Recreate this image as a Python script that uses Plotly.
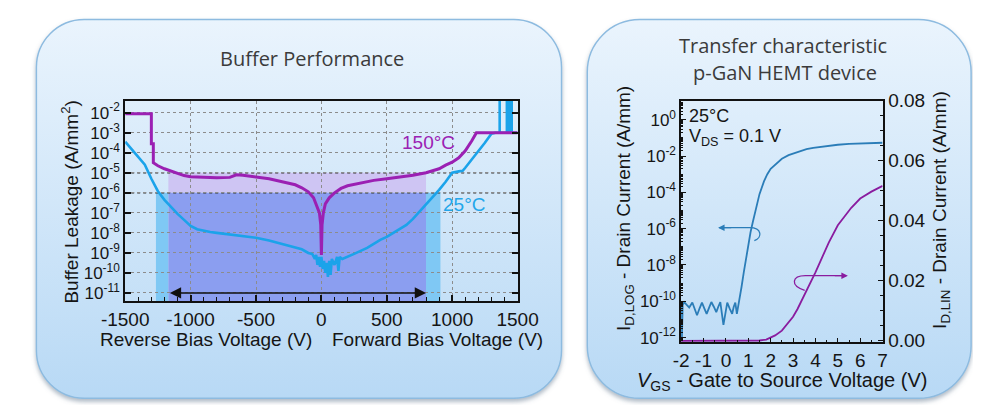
import base64
import plotly.graph_objects as go

W, H = 994, 414

# ---------------- Left chart: Buffer leakage ----------------
v_150 = [-1500, -1300, -1300, -1285, -1285, -1250, -1200, -1150, -1100, -1050, -1000, -900,
         -800, -700, -650, -600, -500, -400, -300, -200, -150, -100, -60, -30, -15, -5, 0,
         5, 15, 30, 60, 100, 150, 200, 300, 400, 500, 600, 700, 800, 850, 900, 950, 1000,
         1050, 1100, 1150, 1185, 1300, 1400, 1500]
exp_150 = [-2.05, -2.05, -3.55, -3.55, -4.5, -4.65, -4.8, -4.92, -5.05, -5.14, -5.2, -5.24,
           -5.25, -5.23, -5.1, -5.12, -5.2, -5.3, -5.45, -5.6, -5.75, -5.95, -6.25, -6.7, -7.0, -7.6, -9.1,
           -7.6, -7.0, -6.55, -6.25, -6.0, -5.78, -5.65, -5.5, -5.38, -5.3, -5.22, -5.12, -5.0, -4.9, -4.8,
           -4.62, -4.47, -4.25, -3.9, -3.4, -3.0, -3.0, -3.0, -3.0]

v_25 = [-1500, -1450, -1400, -1350, -1300, -1250, -1200, -1150, -1100, -1050, -1000, -950, -900,
        -850, -800, -700, -600, -500, -400, -300, -200, -150, -100, -70, -50, -40, -30, -20, -10,
        0, 10, 20, 30, 40, 50, 60, 70, 80, 100, 120, 130, 140, 160, 200, 250, 300, 350, 400, 450,
        500, 550, 600, 650, 700, 750, 800, 850, 900, 950, 1000, 1050, 1080, 1100, 1150, 1200, 1250,
        1300, 1330, 1363, 1363, 1363, 1418, 1418, 1430, 1430, 1442, 1442, 1455, 1455, 1500]
exp_25 = [-3.45, -3.85, -4.2, -4.6, -5.3, -5.92, -6.35, -6.72, -7.05, -7.35, -7.65, -7.82, -7.9,
          -7.96, -8.0, -8.08, -8.14, -8.24, -8.38, -8.55, -8.72, -8.82, -9.0, -9.05, -9.3, -9.1, -9.6, -9.2, -9.7,
          -9.2, -9.8, -9.4, -10.0, -9.5, -10.2, -9.4, -10.1, -9.3, -9.6, -9.2, -9.9, -9.2, -9.3, -9.2, -9.05,
          -8.9, -8.75, -8.55, -8.35, -8.2, -8.0, -7.8, -7.6, -7.3, -6.95, -6.6, -6.2, -5.85, -5.45, -5.0,
          -4.93, -4.9, -4.75, -4.35, -3.95, -3.5, -3.05, -3.0, -3.0, -1.0, -3.0, -3.0, -1.0, -1.0, -3.0,
          -3.0, -1.0, -1.0, -3.0, -3.0]

left_x_ticks = [-1500, -1000, -500, 0, 500, 1000, 1500]
left_y_exps = [-11, -10, -9, -8, -7, -6, -5, -4, -3, -2]
safe_zone = [-1170, 800]          # arrow / shaded window (V)
wide_zone = [-1265, 910]          # light cyan extension (V)
zone_levels = [1e-6, 1e-5]        # 25°C and 150°C limits

# ---------------- Right chart: transfer characteristic ----------------
vgs_log = [-2.0, -1.97, -1.93, -1.86, -1.75, -1.64, -1.5, -1.4, -1.29, -1.18, -1.07, -0.96, -0.86,
           -0.75, -0.65, -0.54, -0.43, -0.34, -0.25, -0.11, 0.06, 0.17, 0.28, 0.35, 0.42, 0.49, 0.55,
           0.6, 0.7, 0.8, 0.9, 1.0, 1.1, 1.2, 1.35, 1.5, 1.7, 1.85, 2.0, 2.3, 2.5, 2.8, 3.2, 3.6, 3.9,
           4.5, 5.0, 5.5, 6.0, 6.5, 7.0]
exp_id_log = [-10.3, -12.2, -10.2, -10.05, -10.2, -10.34, -10.07, -10.4, -10.77, -10.4, -10.07, -10.4,
              -10.69, -10.35, -10.04, -10.3, -10.6, -10.3, -10.04, -11.3, -10.07, -10.4, -10.69, -10.3,
              -10.07, -10.69, -10.3, -9.9, -9.2, -8.4, -7.6, -6.9, -6.2, -5.65, -4.85, -4.1, -3.4, -3.0,
              -2.7, -2.35, -2.15, -1.95, -1.78, -1.62, -1.55, -1.45, -1.38, -1.33, -1.3, -1.28, -1.27]

vgs_lin = [-2, -1, 0, 1, 1.5, 1.8, 2.0, 2.2, 2.5, 2.8, 3.0, 3.2, 3.5, 3.8, 4.0, 4.3, 4.6, 5.0, 5.3,
           5.6, 6.0, 6.5, 7.0]
id_lin = [0, 0, 0, 0, 0.0001, 0.0004, 0.0010, 0.0018, 0.0034, 0.0060, 0.0080, 0.0106, 0.0150,
          0.0195, 0.0228, 0.0278, 0.0328, 0.0385, 0.0415, 0.0443, 0.0474, 0.0497, 0.0516]

right_x_ticks = [-2, -1, 0, 1, 2, 3, 4, 5, 6, 7]
right_log_exps = [0, -2, -4, -6, -8, -10, -12]
right_lin_ticks = [0.0, 0.02, 0.04, 0.06, 0.08]

i_150 = [10 ** e for e in exp_150]
i_25 = [10 ** e for e in exp_25]
id_log = [10 ** e for e in exp_id_log]

PURPLE = "#9b20b3"
BLUE = "#1ba3ea"
BLUE_R = "#2b7db8"
PURPLE_R = "#8a1c9f"
ARIAL = "Liberation Sans"
TITLEF = "Open Sans"
INK = "#151515"


def px(x):
    return x / W


def py(y):
    return 1 - y / H


# Panel backgrounds (gradient rounded boxes)
svg = f'''<svg xmlns="http://www.w3.org/2000/svg" width="{W}" height="{H}" viewBox="0 0 {W} {H}">
<defs>
<linearGradient id="g" x1="0" y1="0" x2="0" y2="1">
<stop offset="0" stop-color="#eaf4fd"/>
<stop offset="1" stop-color="#b8d9f5"/>
</linearGradient>
<filter id="s" x="-5%" y="-5%" width="110%" height="115%">
<feDropShadow dx="0" dy="3" stdDeviation="2.5" flood-color="#60768c" flood-opacity="0.5"/>
</filter>
</defs>
<rect x="13" y="10" width="550" height="397" rx="50" ry="50" fill="url(#g)" stroke="#8dbbe0" stroke-width="1.5" filter="url(#s)"/>
<rect x="590" y="10" width="402" height="397" rx="55" ry="55" fill="url(#g)" stroke="#8dbbe0" stroke-width="1.5" filter="url(#s)"/>
</svg>'''
src = "data:image/svg+xml;base64," + base64.b64encode(svg.encode()).decode()

fig = go.Figure()

# Left traces
fig.add_trace(go.Scatter(x=v_25, y=i_25, mode="lines", line=dict(color=BLUE, width=2.6),
                         xaxis="x", yaxis="y", showlegend=False, hoverinfo="skip"))
fig.add_trace(go.Scatter(x=v_150, y=i_150, mode="lines", line=dict(color=PURPLE, width=3),
                         xaxis="x", yaxis="y", showlegend=False, hoverinfo="skip"))

# Right traces
fig.add_trace(go.Scatter(x=vgs_log, y=id_log, mode="lines", line=dict(color=BLUE_R, width=1.8),
                         xaxis="x2", yaxis="y2", showlegend=False, hoverinfo="skip"))
fig.add_trace(go.Scatter(x=vgs_lin, y=id_lin, mode="lines", line=dict(color=PURPLE_R, width=1.8),
                         xaxis="x2", yaxis="y3", showlegend=False, hoverinfo="skip"))

ybot = 10 ** -11.4
shapes = [
    dict(type="rect", xref="x", yref="y", x0=wide_zone[0], x1=safe_zone[0], y0=ybot, y1=zone_levels[0],
         fillcolor="#7fc8f4", line_width=0, layer="below"),
    dict(type="rect", xref="x", yref="y", x0=safe_zone[1], x1=wide_zone[1], y0=ybot, y1=zone_levels[0],
         fillcolor="#7fc8f4", line_width=0, layer="below"),
    dict(type="rect", xref="x", yref="y", x0=safe_zone[0], x1=safe_zone[1], y0=zone_levels[0], y1=zone_levels[1],
         fillcolor="#cec5f3", line_width=0, layer="below"),
    dict(type="rect", xref="x", yref="y", x0=safe_zone[0], x1=safe_zone[1], y0=ybot, y1=zone_levels[0],
         fillcolor="#8b9ef0", line_width=0, layer="below"),
    dict(type="line", xref="x", yref="y", x0=-1500, x1=1500, y0=zone_levels[0], y1=zone_levels[0],
         line=dict(color="#333", width=1.4, dash="dot"), layer="below"),
    dict(type="line", xref="x", yref="y", x0=-1500, x1=1500, y0=zone_levels[1], y1=zone_levels[1],
         line=dict(color="#333", width=1.4, dash="dot"), layer="below"),
    dict(type="path", xref="x2", yref="y3",
         path="M -0.30,0.0377 L 1.06,0.0377 C 1.62,0.0377 1.64,0.0343 1.27,0.0334",
         line=dict(color=BLUE_R, width=1.3)),
    dict(type="path", xref="x2", yref="y3",
         path="M 5.35,0.0217 L 3.55,0.0217 C 2.95,0.0217 2.85,0.0185 3.52,0.0168",
         line=dict(color=PURPLE_R, width=1.3)),
]


def ann(text, x, y, size=19, color=INK, family=ARIAL, angle=0, xanchor="center"):
    return dict(text=text, x=px(x), y=py(y), xref="paper", yref="paper", showarrow=False,
                font=dict(family=family, size=size, color=color), textangle=angle,
                xanchor=xanchor, yanchor="middle")


annotations = [
    ann("Buffer Performance", 302, 51, size=20, color="#3b3b3b", family=TITLEF),
    ann("Transfer characteristic", 795, 37, size=20, color="#3b3b3b", family=TITLEF),
    ann("p-GaN HEMT device", 797, 65, size=20, color="#3b3b3b", family=TITLEF),
    ann("Buffer Leakage (A/mm<sup>2</sup>)", 48, 201, size=19, angle=-90),
    ann("Reverse Bias Voltage (V)", 191, 345, size=19),
    ann("Forward Bias Voltage (V)", 433, 345, size=19),
    ann("I<sub>D,LOG</sub> - Drain Current (A/mm)", 630, 208, size=19, angle=-90),
    ann("I<sub>D,LIN</sub> - Drain Current (A/mm)", 961, 209, size=19, angle=-90),
    ann("<i>V</i><sub>GS</sub> - Gate to Source Voltage (V)", 794, 389, size=20),
    ann("25°C", 694, 111, size=18, xanchor="left"),
    ann("V<sub>DS</sub> = 0.1 V", 694, 134, size=18, xanchor="left"),
    dict(text="150°C", x=820, y=-3.5, xref="x", yref="y", showarrow=False,
         font=dict(family=ARIAL, size=19, color=PURPLE)),
    dict(text="25°C", x=1090, y=-6.6, xref="x", yref="y", showarrow=False,
         font=dict(family=ARIAL, size=19, color="#23a6ea")),
    dict(text="", x=safe_zone[1], y=-11, ax=safe_zone[0], ay=-11, xref="x", yref="y",
         axref="x", ayref="y", showarrow=True, arrowhead=2, arrowside="end+start",
         arrowsize=1.5, arrowwidth=1.5, arrowcolor="#111"),
    dict(text="", x=-0.35, y=0.0377, ax=0.3, ay=0.0377, xref="x2", yref="y3", axref="x2", ayref="y3",
         showarrow=True, arrowhead=2, arrowsize=1.0, arrowwidth=1.3, arrowcolor=BLUE_R),
    dict(text="", x=5.45, y=0.0217, ax=4.8, ay=0.0217, xref="x2", yref="y3", axref="x2", ayref="y3",
         showarrow=True, arrowhead=2, arrowsize=1.0, arrowwidth=1.3, arrowcolor=PURPLE_R),
]

axis_common = dict(showline=True, linecolor="#111", zeroline=False, ticks="inside",
                   tickcolor="#111")

fig.update_layout(
    width=W, height=H, autosize=False,
    margin=dict(l=0, r=0, t=0, b=0),
    paper_bgcolor="white", plot_bgcolor="rgba(0,0,0,0)",
    images=[dict(source=src, xref="paper", yref="paper", x=0, y=1, sizex=1, sizey=1,
                 xanchor="left", yanchor="top", sizing="stretch", layer="below")],
    shapes=shapes,
    annotations=annotations,
    xaxis=dict(domain=[px(106), px(517)], anchor="y", range=[-1500, 1500], tickvals=left_x_ticks,
               ticktext=[str(v) for v in left_x_ticks], linewidth=2, mirror=True, ticklen=6, tickwidth=1.5,
               showgrid=True, gridcolor="#8c8c8c", griddash="dot", gridwidth=1,
               minor=dict(dtick=100, ticks="inside", ticklen=4, tickcolor="#111", tickwidth=1.2, showgrid=False),
               tickfont=dict(family=ARIAL, size=19, color=INK), **axis_common),
    yaxis=dict(domain=[py(305), py(95)], anchor="x", type="log", range=[-11.4, -1.4],
               tickvals=[10 ** e for e in left_y_exps],
               ticktext=[f"10<sup>{e}</sup>" for e in left_y_exps], linewidth=2, mirror="ticks",
               ticklen=6, tickwidth=1.5, showgrid=True, gridcolor="#8c8c8c", griddash="dot", gridwidth=1,
               tickfont=dict(family=ARIAL, size=17, color=INK), **axis_common),
    xaxis2=dict(domain=[px(688.3), px(899.3)], anchor="y2", range=[-2, 7], tickvals=right_x_ticks,
                ticktext=[str(v) for v in right_x_ticks], linewidth=1.5, mirror=True, ticklen=5,
                tickwidth=1.2, showgrid=False,
                minor=dict(dtick=0.5, ticks="inside", ticklen=3, tickcolor="#111", tickwidth=1),
                tickfont=dict(family=ARIAL, size=19, color=INK), **axis_common),
    yaxis2=dict(domain=[py(348.3), py(95)], anchor="x2", type="log", range=[-12.26, 1.05],
                tickvals=[10 ** e for e in right_log_exps],
                ticktext=[f"10<sup>{e}</sup>" for e in right_log_exps], linewidth=1.5, ticklen=5,
                tickwidth=1.2, showgrid=False,
                minor=dict(ticks="inside", ticklen=2.5, tickcolor="#111", tickwidth=1,
                           tickmode="array",
                           tickvals=[m * 10 ** e for e in range(-13, 2) for m in (1, 2, 3, 4, 5, 6, 7, 8, 9)]),
                tickfont=dict(family=ARIAL, size=17, color=INK), **axis_common),
    yaxis3=dict(overlaying="y2", anchor="x2", side="right", range=[-0.0005, 0.08],
                tickvals=right_lin_ticks, ticktext=[f"{v:.2f}" for v in right_lin_ticks],
                linewidth=1.5, ticklen=5, tickwidth=1.2, showgrid=False,
                minor=dict(dtick=0.005, ticks="inside", ticklen=3, tickcolor="#111", tickwidth=1),
                tickfont=dict(family=ARIAL, size=19, color=INK), **axis_common),
)

fig.write_html("out.html", config={"displayModeBar": False},
               post_script="document.body.style.margin='0';document.body.style.overflow='hidden';")
